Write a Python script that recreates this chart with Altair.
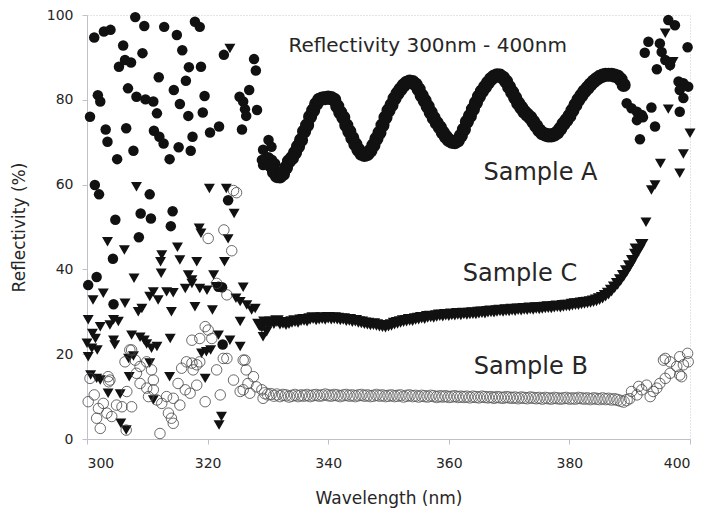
import altair as alt
import pandas as pd

# ---------------- data ----------------
wavelength_ticks = [300, 320, 340, 360, 380, 400]
reflectivity_ticks = [0, 20, 40, 60, 80, 100]
note_texts = ["Reflectivity 300nm - 400nm", "Sample A", "Sample C", "Sample B"]

# Sample A (filled circles): noisy ends + interference fringes
sample_a_scatter = [
    (301.2, 94.7), (302.8, 96.1), (303.9, 96.5), (300.5, 76.0), (301.8, 81.1), (302.2, 79.6),
    (303.1, 73.0), (303.4, 70.1), (305.0, 66.0), (305.3, 87.8), (306.0, 92.8), (306.3, 89.4),
    (307.3, 88.8), (306.8, 82.7), (306.5, 73.3), (307.7, 68.0), (308.0, 99.5), (308.2, 80.7),
    (309.5, 97.4), (309.2, 91.0), (309.7, 80.1), (311.0, 79.6), (311.6, 76.8), (311.1, 72.7),
    (312.0, 71.3), (312.7, 69.7), (311.9, 85.3), (312.8, 97.2), (313.7, 66.0), (314.4, 82.3),
    (314.9, 95.3), (315.4, 79.0), (315.2, 68.8), (315.8, 91.7), (316.4, 84.5), (316.9, 87.7),
    (316.8, 76.2), (317.2, 68.0), (317.5, 71.3), (317.9, 98.4), (318.7, 97.2), (318.9, 87.8),
    (319.5, 80.9), (319.2, 77.0), (320.4, 72.3), (321.9, 73.7), (322.7, 90.6), (325.3, 80.7),
    (325.9, 79.6), (326.9, 82.3), (326.2, 77.8), (326.4, 76.2), (325.7, 73.0), (327.7, 89.6),
    (328.0, 86.9), (328.2, 77.6),
    (301.3, 59.9), (302.0, 57.7), (310.4, 57.7), (304.7, 51.7), (308.9, 53.2), (310.6, 52.0),
    (308.6, 47.6), (314.2, 53.7), (313.9, 50.2), (323.4, 56.3), (304.3, 42.5), (300.2, 36.3),
    (301.6, 38.2), (304.4, 31.8), (321.8, 35.9), (322.4, 35.8), (322.5, 22.3),
    (329.2, 68.2), (330.1, 70.5), (330.6, 68.9), (329.0, 65.8), (331.2, 65.0), (329.2, 64.6),
    (330.7, 65.8),
    (396.4, 98.8), (397.5, 97.6), (393.1, 93.7), (395.0, 93.3), (395.3, 91.3), (399.6, 92.4),
    (392.5, 91.1), (395.9, 89.4), (396.7, 88.2), (394.5, 87.2), (398.1, 84.3), (398.9, 83.9),
    (399.7, 83.1), (398.3, 82.3), (398.9, 80.4), (393.6, 78.2), (398.3, 77.2), (389.5, 79.2),
    (390.3, 78.0), (391.2, 77.2), (392.0, 76.4), (391.2, 75.2), (392.2, 75.9), (394.2, 73.7),
    (391.7, 70.7),
]
sample_a_curve = [
    (330.0, 66.0), (330.5, 64.5), (331.0, 63.0), (331.5, 62.0), (332.0, 61.9), (332.5, 62.5),
    (333.0, 64.0), (333.5, 65.5), (334.0, 66.3), (334.5, 67.5), (335.0, 69.0), (335.5, 70.5),
    (336.0, 72.5), (336.5, 74.0), (337.0, 76.0), (337.5, 77.5), (338.0, 79.0), (338.5, 80.0),
    (339.0, 80.3), (339.5, 80.4), (340.0, 80.5), (340.5, 80.4), (341.0, 80.0), (341.5, 78.5),
    (342.0, 77.0), (342.5, 75.8), (343.0, 74.0), (343.5, 72.5), (344.0, 71.0), (344.5, 69.5),
    (345.0, 68.2), (345.5, 67.3), (346.0, 67.0), (346.5, 67.2), (347.0, 68.0), (347.5, 69.3),
    (348.0, 70.8), (348.5, 72.2), (349.0, 74.0), (349.5, 75.8), (350.0, 77.5), (350.5, 78.8),
    (351.0, 80.3), (351.5, 81.5), (352.0, 82.5), (352.5, 83.4), (353.0, 84.0), (353.5, 84.3),
    (354.0, 84.2), (354.5, 83.6), (355.0, 82.5), (355.5, 81.0), (356.0, 79.8), (356.5, 78.4),
    (357.0, 77.0), (357.5, 75.7), (358.0, 74.5), (358.5, 73.5), (359.0, 72.3), (359.5, 71.3),
    (360.0, 70.5), (360.5, 70.1), (361.0, 70.0), (361.5, 70.4), (362.0, 71.5), (362.5, 73.0),
    (363.0, 74.8), (363.5, 76.2), (364.0, 77.8), (364.5, 79.3), (365.0, 80.8), (365.5, 82.0),
    (366.0, 83.0), (366.5, 84.0), (367.0, 84.9), (367.5, 85.5), (368.0, 85.8), (368.5, 85.7),
    (369.0, 85.2), (369.5, 84.3), (370.0, 83.0), (370.5, 81.8), (371.0, 80.5), (371.5, 79.2),
    (372.0, 78.2), (372.5, 77.2), (373.0, 76.5), (373.5, 75.8), (374.0, 74.8), (374.5, 73.8),
    (375.0, 72.8), (375.5, 72.1), (376.0, 71.8), (376.5, 71.6), (377.0, 71.6), (377.5, 71.8),
    (378.0, 72.3), (378.5, 73.2), (379.0, 74.3), (379.5, 75.2), (380.0, 76.2), (380.5, 77.5),
    (381.0, 78.8), (381.5, 80.0), (382.0, 81.0), (382.5, 82.0), (383.0, 82.8), (383.5, 83.6),
    (384.0, 84.3), (384.5, 84.9), (385.0, 85.4), (385.5, 85.7), (386.0, 85.9), (386.5, 85.9),
    (387.0, 85.9), (387.5, 85.7), (388.0, 85.5), (388.5, 84.8), (389.0, 83.5),
]

# Sample C (filled down-triangles)
sample_c_scatter = [
    (308.2, 59.5), (320.3, 59.1), (323.1, 59.1), (323.7, 92.1), (324.4, 53.2), (318.6, 49.7),
    (318.9, 48.5), (323.4, 47.2), (303.4, 46.5), (306.2, 44.6), (312.4, 43.4), (315.0, 45.2),
    (312.2, 41.8), (315.4, 42.2), (318.2, 41.8), (322.8, 41.8), (307.8, 37.9), (312.3, 39.1),
    (316.8, 38.7), (317.4, 37.5), (321.0, 38.7), (325.9, 35.8),
    (300.2, 28.1), (301.0, 32.8), (302.7, 34.4), (306.3, 32.0), (302.2, 26.5), (303.8, 26.9),
    (304.4, 28.1), (305.2, 27.7), (310.4, 33.6), (311.0, 34.7), (311.8, 32.8), (308.5, 30.0),
    (309.1, 30.8), (313.2, 34.7), (314.3, 34.5), (316.3, 35.5), (317.4, 36.7), (318.7, 35.5),
    (319.9, 35.1), (321.4, 35.9), (314.0, 30.0), (317.9, 31.2), (320.8, 30.4), (324.7, 33.2),
    (325.4, 32.4), (326.5, 31.6), (327.3, 30.4), (327.9, 30.8), (325.4, 27.7),
    (300.0, 22.6), (300.8, 21.4), (301.7, 21.0), (300.2, 19.4), (300.9, 24.9), (301.4, 23.7),
    (300.6, 15.1), (301.6, 14.3), (302.2, 13.9), (304.4, 23.3), (304.6, 22.2), (303.5, 10.8),
    (305.5, 10.6), (305.6, 3.7), (306.5, 2.1), (307.4, 24.5), (308.8, 24.0), (309.5, 23.3),
    (309.9, 22.4), (306.9, 19.0), (307.7, 19.6), (307.0, 14.7), (310.7, 21.4), (311.6, 21.8),
    (310.4, 17.9), (311.0, 9.2), (313.8, 23.7), (313.7, 14.7), (319.0, 20.2), (319.8, 20.6),
    (320.5, 21.0), (319.6, 14.3), (321.8, 24.5), (323.7, 23.3), (325.4, 21.8), (322.3, 5.3),
    (321.9, 3.3), (328.7, 26.5), (329.2, 24.1), (329.8, 25.3),
    (395.9, 95.7), (397.2, 89.0), (396.7, 87.8), (396.4, 77.8), (400.0, 72.1), (398.9, 67.2),
    (395.1, 65.0), (398.3, 62.7), (393.6, 58.7), (394.2, 59.9), (392.7, 51.1), (390.9, 45.0),
]
sample_c_curve = [
    (328.5, 27.0), (329.0, 26.5), (329.5, 27.5), (330.0, 27.0), (330.5, 27.5), (331.0, 27.3),
    (331.5, 27.8), (332.0, 27.2), (332.5, 27.4), (333.0, 27.1), (333.5, 27.3), (334.0, 27.6),
    (334.5, 27.8), (335.0, 27.6), (335.5, 28.0), (336.0, 28.1), (336.5, 27.9), (337.0, 28.3),
    (337.5, 28.5), (338.0, 28.2), (338.5, 28.4), (339.0, 28.5), (339.5, 28.3), (340.0, 28.6),
    (340.5, 28.4), (341.0, 28.5), (341.5, 28.4), (342.0, 28.2), (342.5, 28.3), (343.0, 28.0),
    (343.5, 28.1), (344.0, 27.8), (344.5, 27.9), (345.0, 27.6), (345.5, 27.5), (346.0, 27.3),
    (346.5, 27.2), (347.0, 27.0), (347.5, 27.1), (348.0, 26.9), (348.5, 26.7), (349.0, 26.6),
    (349.5, 26.5), (350.0, 26.7), (350.5, 26.9), (351.0, 27.2), (351.5, 27.4), (352.0, 27.6),
    (352.5, 27.8), (353.0, 27.9), (353.5, 28.1), (354.0, 28.0), (354.5, 28.3), (355.0, 28.4),
    (355.5, 28.6), (356.0, 28.5), (356.5, 28.8), (357.0, 28.9), (357.5, 28.8), (358.0, 29.0),
    (358.5, 29.2), (359.0, 29.1), (359.5, 29.3), (360.0, 29.2), (360.5, 29.4), (361.0, 29.3),
    (361.5, 29.5), (362.0, 29.4), (362.5, 29.6), (363.0, 29.5), (363.5, 29.6), (364.0, 29.7),
    (364.5, 29.6), (365.0, 29.8), (365.5, 29.9), (366.0, 29.8), (366.5, 30.0), (367.0, 30.1),
    (367.5, 30.0), (368.0, 30.2), (368.5, 30.3), (369.0, 30.2), (369.5, 30.4), (370.0, 30.3),
    (370.5, 30.5), (371.0, 30.4), (371.5, 30.6), (372.0, 30.5), (372.5, 30.7), (373.0, 30.6),
    (373.5, 30.8), (374.0, 30.7), (374.5, 30.9), (375.0, 30.8), (375.5, 30.9), (376.0, 31.0),
    (376.5, 31.1), (377.0, 31.0), (377.5, 31.2), (378.0, 31.3), (378.5, 31.2), (379.0, 31.4),
    (379.5, 31.5), (380.0, 31.5), (380.5, 31.7), (381.0, 31.8), (381.5, 31.8), (382.0, 32.0),
    (382.5, 32.1), (383.0, 32.2), (383.5, 32.3), (384.0, 32.5), (384.5, 32.7), (385.0, 33.0),
    (385.5, 33.3), (386.0, 33.8), (386.5, 34.3), (387.0, 35.0), (387.5, 35.8), (388.0, 36.6),
    (388.5, 37.5), (389.0, 38.5), (389.5, 39.6), (390.0, 40.8), (390.5, 42.0), (391.0, 43.5),
    (391.5, 44.5), (392.0, 45.8),
]

# Sample B (open circles)
sample_b_scatter = [
    (300.5, 14.3), (300.2, 8.8), (301.2, 10.4), (301.9, 7.2), (301.6, 4.9), (302.2, 2.5),
    (302.7, 8.4), (303.3, 6.1), (303.5, 14.7), (303.6, 13.5), (304.1, 5.3), (304.9, 8.0),
    (305.8, 7.6), (306.5, 2.1), (306.6, 11.2), (307.4, 7.6), (306.3, 18.2), (307.4, 21.0),
    (308.0, 18.6), (308.8, 17.1), (308.2, 15.5), (308.8, 13.1), (309.9, 12.0), (310.2, 10.0),
    (311.0, 11.6), (311.6, 9.2), (312.4, 8.4), (312.1, 1.3), (313.5, 6.1), (314.3, 3.7),
    (314.0, 4.9), (313.2, 10.0), (314.3, 9.6), (315.4, 8.0), (315.1, 13.1), (316.3, 11.6),
    (317.1, 10.8), (315.7, 16.7), (316.5, 18.2), (317.4, 17.9), (318.2, 17.5), (318.7, 18.2),
    (317.6, 16.3), (317.4, 23.3), (318.7, 23.7), (320.1, 25.7), (320.7, 23.7), (318.2, 12.7),
    (319.6, 8.8), (321.5, 16.3), (323.2, 19.0), (322.1, 10.4), (321.5, 36.7), (323.2, 34.0),
    (324.0, 44.4), (324.8, 58.1), (324.3, 58.6), (322.7, 49.3), (320.1, 47.3),
    (309.9, 18.2), (310.7, 16.3), (311.0, 13.9), (307.1, 21.0), (303.8, 13.9), (319.6, 26.5),
    (322.6, 19.0), (325.9, 18.6),
    (324.3, 13.9), (325.4, 11.2), (326.2, 18.6), (326.4, 16.3), (326.7, 13.1), (327.6, 14.7),
    (328.1, 12.3), (329.0, 11.6), (329.2, 9.6), (325.9, 11.6), (327.0, 10.8),
    (390.3, 11.2), (391.2, 10.4), (392.0, 11.6), (392.8, 12.7), (393.4, 10.0), (393.9, 11.2),
    (395.0, 13.1), (395.9, 14.3), (396.7, 15.5), (398.3, 15.1), (397.8, 17.1), (398.3, 19.4),
    (396.7, 18.2), (395.6, 18.6), (399.6, 20.2), (399.7, 18.2), (398.9, 17.5), (390.0, 9.5),
    (391.5, 12.4), (394.5, 12.0), (398.6, 14.7), (395.9, 19.0),
]
sample_b_curve = [
    (329.5, 10.8), (330.0, 10.5), (330.5, 10.6), (331.0, 10.2), (331.5, 10.5), (332.0, 10.1),
    (332.5, 10.4), (333.0, 10.3), (333.5, 10.0), (334.0, 10.2), (334.5, 10.4), (335.0, 10.1),
    (335.5, 10.3), (336.0, 10.2), (336.5, 10.4), (337.0, 10.1), (337.5, 10.3), (338.0, 10.4),
    (338.5, 10.2), (339.0, 10.3), (339.5, 10.5), (340.0, 10.3), (340.5, 10.2), (341.0, 10.4),
    (341.5, 10.3), (342.0, 10.1), (342.5, 10.3), (343.0, 10.4), (343.5, 10.2), (344.0, 10.3),
    (344.5, 10.1), (345.0, 10.3), (345.5, 10.4), (346.0, 10.2), (346.5, 10.3), (347.0, 10.1),
    (347.5, 10.2), (348.0, 10.4), (348.5, 10.2), (349.0, 10.3), (349.5, 10.1), (350.0, 10.2),
    (350.5, 10.3), (351.0, 10.1), (351.5, 10.2), (352.0, 10.3), (352.5, 10.0), (353.0, 10.2),
    (353.5, 10.3), (354.0, 10.1), (354.5, 10.2), (355.0, 10.0), (355.5, 10.2), (356.0, 10.1),
    (356.5, 10.0), (357.0, 10.2), (357.5, 10.1), (358.0, 9.9), (358.5, 10.1), (359.0, 10.0),
    (359.5, 10.1), (360.0, 9.9), (360.5, 10.0), (361.0, 10.1), (361.5, 9.9), (362.0, 10.0),
    (362.5, 9.9), (363.0, 10.0), (363.5, 9.8), (364.0, 10.0), (364.5, 9.9), (365.0, 9.8),
    (365.5, 10.0), (366.0, 9.9), (366.5, 9.8), (367.0, 9.9), (367.5, 9.7), (368.0, 9.9),
    (368.5, 9.8), (369.0, 9.7), (369.5, 9.9), (370.0, 9.8), (370.5, 9.7), (371.0, 9.8),
    (371.5, 9.6), (372.0, 9.8), (372.5, 9.7), (373.0, 9.6), (373.5, 9.8), (374.0, 9.7),
    (374.5, 9.6), (375.0, 9.7), (375.5, 9.5), (376.0, 9.7), (376.5, 9.6), (377.0, 9.5),
    (377.5, 9.7), (378.0, 9.6), (378.5, 9.5), (379.0, 9.6), (379.5, 9.7), (380.0, 9.5),
    (380.5, 9.6), (381.0, 9.5), (381.5, 9.7), (382.0, 9.6), (382.5, 9.5), (383.0, 9.6),
    (383.5, 9.4), (384.0, 9.6), (384.5, 9.5), (385.0, 9.4), (385.5, 9.6), (386.0, 9.4),
    (386.5, 9.5), (387.0, 9.3), (387.5, 9.4), (388.0, 9.2), (388.5, 9.0), (389.0, 8.8),
    (389.5, 9.2),
]


def frame(points):
    return pd.DataFrame({
        "wavelength": [p[0] for p in points],
        "reflectivity": [p[1] for p in points],
    })


FONT = "DejaVu Sans"
AXIS_GREY = "#bfc0cc"
TEXT = "#262626"
INK = "#111111"

x_enc = alt.X(
    "wavelength:Q",
    scale=alt.Scale(domain=[300, 400], nice=False, zero=False),
    axis=alt.Axis(values=wavelength_ticks, title="Wavelength (nm)", labelPadding=12, titlePadding=20),
)
y_enc = alt.Y(
    "reflectivity:Q",
    scale=alt.Scale(domain=[0, 100], nice=False),
    axis=alt.Axis(values=reflectivity_ticks, title="Reflectivity (%)", labelPadding=9, titlePadding=18),
)


def dots(points, **style):
    return alt.Chart(frame(points)).mark_point(opacity=1, **style).encode(x=x_enc, y=y_enc)


layers = [
    dots(sample_a_scatter, shape="circle", filled=True, size=110, color=INK),
    dots(sample_a_curve, shape="circle", filled=True, size=200, color=INK),
    dots(sample_c_scatter, shape="triangle-down", filled=True, size=120, color=INK),
    dots(sample_c_curve, shape="triangle-down", filled=True, size=180, color=INK),
    dots(sample_b_scatter, shape="circle", filled=False, size=110, color="#444444", strokeWidth=0.8),
    dots(sample_b_curve, shape="circle", filled=False, size=130, color="#555555", strokeWidth=0.8),
]


def note(text, x, y, size):
    return alt.Chart(pd.DataFrame({"label": [text]})).mark_text(
        font=FONT, fontSize=size, color=TEXT, align="center", baseline="middle"
    ).encode(x=alt.datum(x), y=alt.datum(y), text="label:N")


notes = [
    note(note_texts[0], 356.5, 92.8, 20),
    note(note_texts[1], 375.2, 62.7, 24),
    note(note_texts[2], 371.8, 38.9, 24),
    note(note_texts[3], 373.6, 16.9, 24),
]

chart = (
    alt.layer(*layers, *notes)
    .properties(
        width=603,
        height=424,
        padding={"left": 79, "top": 7, "right": 8, "bottom": 70},
        autosize=alt.AutoSizeParams(type="none"),
        background="white",
    )
    .configure_view(stroke="#c8c8cc", strokeDash=[1, 2], strokeWidth=1)
    .configure_axis(
        grid=False,
        domainColor=AXIS_GREY,
        domainWidth=1,
        tickColor=AXIS_GREY,
        tickSize=5,
        labelFont=FONT,
        labelFontSize=14,
        labelColor=TEXT,
        titleFont=FONT,
        titleFontSize=17,
        titleFontWeight="normal",
        titleColor=TEXT,
    )
)

chart.save("out.html", embed_options={"renderer": "svg", "actions": False})
